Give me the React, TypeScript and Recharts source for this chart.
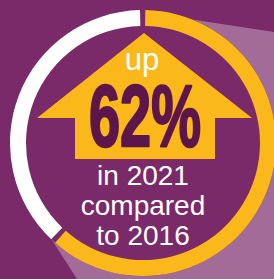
import React from "react";
import { PieChart, Pie, Cell } from "recharts";

// share of the ring: increase vs remainder
const segments = ["Increase 2016–2021", "Remainder"];
const shares = [62, 38];
const segmentColors = ["#fbb81a", "#ffffff"];

const headline = "62%";
const topLabel = "up";
const bottomLines = ["in 2021", "compared", "to 2016"];

const W = 274;
const H = 279;
const CX = 143;
const CY = 143;
const BG = "#7b2a69";

const data = segments.map((name, i) => ({ name, value: shares[i] }));

function Backdrop() {
  return (
    <svg width={W} height={H} style={{ position: "absolute", left: 0, top: 0 }}>
      <rect width={W} height={H} fill={BG} />
      {/* long shadow going down-right */}
      <polygon
        points="143,143 150,13 274,32 274,279 77,279 50,237"
        fill="#a36b97"
      />
      <circle cx={CX} cy={CY} r={133} fill={BG} />
      {/* up arrow */}
      <polygon
        points="144,33 252,118 215,118 215,159 75,159 75,118 37,118"
        fill="#fbb81a"
      />
      <text
        x={142}
        y={70}
        textAnchor="middle"
        fill="#ffffff"
        fontFamily="'Liberation Sans', Arial, sans-serif"
        fontSize={31}
      >
        {topLabel}
      </text>
      <text
        x={145}
        y={146}
        textAnchor="middle"
        fill="#5d164b"
        stroke="#5d164b"
        strokeWidth={2.5}
        strokeLinejoin="round"
        fontFamily="'Liberation Sans Narrow', 'Liberation Sans', sans-serif"
        fontWeight="bold"
        fontSize={88}
        textLength={112}
        lengthAdjust="spacingAndGlyphs"
      >
        {headline}
      </text>
      {bottomLines.map((t, i) => (
        <text
          key={t}
          x={143}
          y={185 + i * 30}
          textAnchor="middle"
          fill="#ffffff"
          fontFamily="'Liberation Sans', Arial, sans-serif"
          fontSize={28}
        >
          {t}
        </text>
      ))}
    </svg>
  );
}

export default function App() {
  return (
    <div
      style={{
        position: "fixed",
        left: 0,
        top: 0,
        width: W,
        height: H,
        overflow: "hidden",
        background: BG,
      }}
    >
      <Backdrop />
      <div style={{ position: "absolute", left: 0, top: 0 }}>
        <PieChart width={W} height={H} margin={{ top: 0, right: 0, bottom: 0, left: 0 }}>
          <Pie
            data={data}
            dataKey="value"
            nameKey="name"
            cx={CX}
            cy={CY}
            innerRadius={117}
            outerRadius={133}
            startAngle={89}
            endAngle={-271}
            paddingAngle={2.3}
            stroke="none"
            isAnimationActive={false}
          >
            {data.map((d, i) => (
              <Cell key={d.name} fill={segmentColors[i]} />
            ))}
          </Pie>
        </PieChart>
      </div>
    </div>
  );
}
